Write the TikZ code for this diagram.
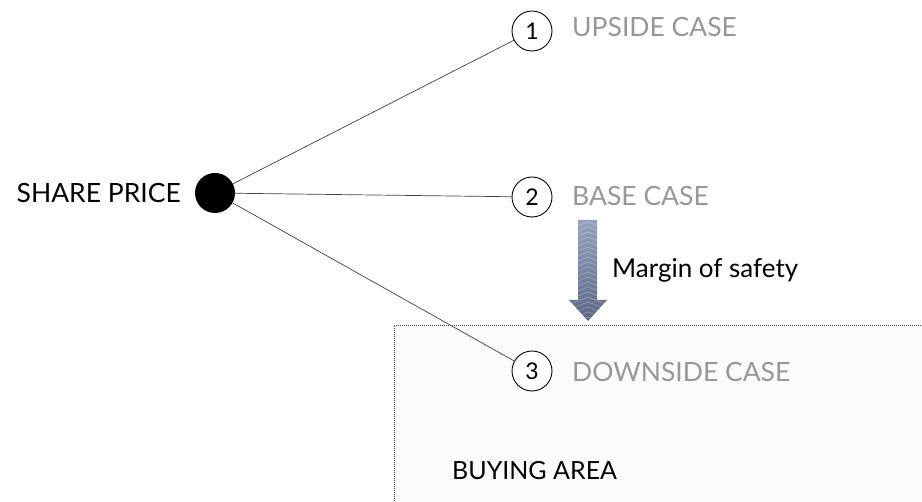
\documentclass[tikz,border=0pt]{standalone}
\usepackage{fontspec}
\setmainfont{Lato}
\usetikzlibrary{calc}
\definecolor{casegray}{HTML}{979797}
\definecolor{boxfill}{HTML}{FAFBFB}
\definecolor{arrtop}{HTML}{95A2BD}
\definecolor{arrbot}{HTML}{5A6583}
\tikzset{
  numcirc/.style={circle,draw=black,line width=0.9pt,minimum size=40pt,inner sep=0pt,font=\fontsize{23}{23}\selectfont,fill=white},
  caselabel/.style={anchor=base west,text=casegray,font=\fontsize{26.5}{26.5}\selectfont,inner sep=0pt},
  branch/.style={draw=black!75,line width=0.7pt},
}
\begin{document}
\begin{tikzpicture}[x=1pt,y=-1pt]
\useasboundingbox (0,0) rectangle (922,502);
% buying area box
\path[fill=boxfill] (394,325) rectangle (923,503);
\draw[black!70,line width=0.8pt,dash pattern=on 1pt off 1pt] (923,325) -- (394,325) -- (394,503);
\node[anchor=base west,inner sep=0pt,font=\fontsize{25}{25}\selectfont] (buy) at (452,480) {BUYING AREA};
% dot
\node[circle,fill=black,minimum size=40pt,inner sep=0pt] (dot) at (215,193) {};
\node[anchor=base east,inner sep=0pt,font=\fontsize{26.5}{26.5}\selectfont] (share) at (181,203) {SHARE PRICE};
% circles
\node[numcirc] (c1) at (532,31) {1};
\node[numcirc] (c2) at (532,197) {2};
\node[numcirc] (c3) at (532,371) {3};
\draw[branch] (dot) -- (c1);
\draw[branch] (dot) -- (c2);
\draw[branch] (dot) -- (c3);
\node[caselabel] (l1) at (572,37) {UPSIDE CASE};
\node[caselabel] (l2) at (572,206) {BASE CASE};
\node[caselabel] (l3) at (572,382) {DOWNSIDE CASE};
% arrow
\begin{scope}
\path[clip] (578,220) -- (597,220) -- (597,300) -- (607,300) -- (588,321) -- (569,300) -- (578,300) -- cycle;
\shade[top color=arrtop,bottom color=arrbot] (565,220) rectangle (611,322);
\foreach \yy in {222,227,...,320} {
  \draw[white,opacity=0.22,line width=1pt] (565,\yy+9) -- (588,\yy) -- (611,\yy+9);
}
\end{scope}
\coordinate (arrtip) at (588,321);
\node[anchor=base west,inner sep=0pt,font=\fontsize{26}{26}\selectfont] (mos) at (612,278) {Margin of safety};
\end{tikzpicture}
\end{document}
